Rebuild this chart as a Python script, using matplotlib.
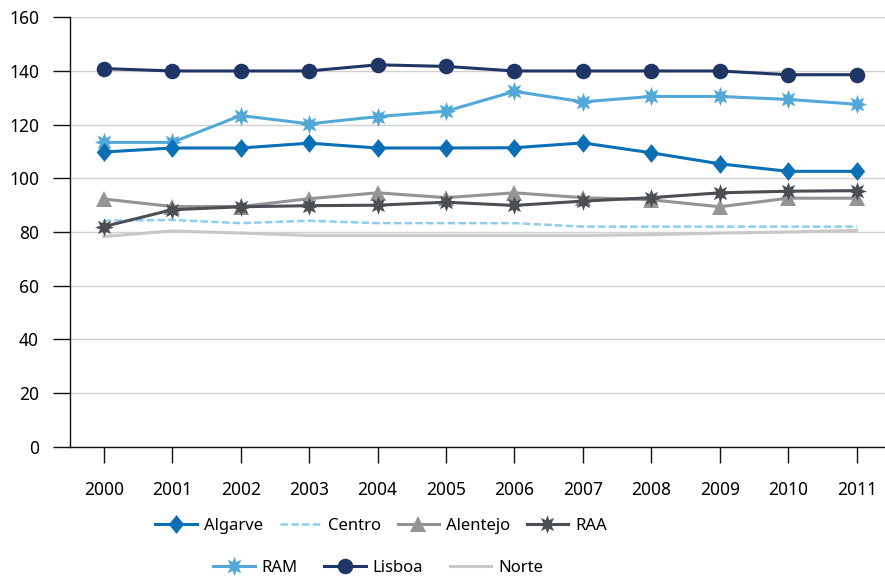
import matplotlib
matplotlib.use("Agg")
import matplotlib.pyplot as plt
import numpy as np

years = ["2000", "2001", "2002", "2003", "2004", "2005", "2006", "2007", "2008", "2009", "2010", "2011"]

algarve = [109.8, 111.3, 111.3, 113.1, 111.3, 111.3, 111.4, 113.2, 109.5, 105.4, 102.6, 102.6]
centro = [84.2, 84.5, 83.3, 84.2, 83.3, 83.3, 83.3, 82.0, 82.0, 82.0, 82.0, 82.0]
alentejo = [92.3, 89.5, 89.5, 92.4, 94.6, 92.8, 94.6, 92.8, 92.0, 89.4, 92.6, 92.6]
raa = [82.0, 88.3, 89.4, 89.8, 90.0, 91.1, 89.9, 91.5, 92.8, 94.6, 95.2, 95.4]
ram = [113.4, 113.4, 123.4, 120.3, 123.0, 125.0, 132.4, 128.5, 130.5, 130.5, 129.4, 127.6]
lisboa = [140.9, 140.0, 140.0, 140.0, 142.3, 141.7, 140.0, 140.0, 140.0, 140.0, 138.6, 138.6]
norte = [78.3, 80.4, 79.6, 78.7, 78.7, 78.7, 78.7, 78.7, 79.0, 79.6, 80.0, 80.6]

y_ticks = [0, 20, 40, 60, 80, 100, 120, 140, 160]

plt.rcParams['font.family'] = ['Noto Sans', 'DejaVu Sans']

fig = plt.figure(figsize=(8.85, 5.77), dpi=100)
ax = fig.add_axes([69.5 / 885, 1 - 446.7 / 577, (891 - 69.5) / 885, (446.7 - 17.3) / 577])

x = np.arange(len(years))

diamond = [(0, 1), (0.82, 0), (0, -1), (-0.82, 0), (0, 1)]
star8 = (8, 1, 0)

styles = {
    "Norte": dict(color="#c8c8c8", lw=2.2, marker=None, z=2),
    "Centro": dict(color="#8dcdee", lw=1.8, marker=None, ls=(0, (3, 1.3)), z=3),
    "Alentejo": dict(color="#949494", lw=2.2, marker="^", ms=11, z=4),
    "RAA": dict(color="#4b4f53", lw=2.2, marker=star8, ms=13.5, z=5),
    "RAM": dict(color="#52a9d8", lw=2.2, marker=star8, ms=14, z=6),
    "Algarve": dict(color="#0b6fb5", lw=2.2, marker=diamond, ms=13.5, z=7),
    "Lisboa": dict(color="#1f3566", lw=2.2, marker="o", ms=11.2, z=8),
}
data = {"Algarve": algarve, "Centro": centro, "Alentejo": alentejo, "RAA": raa,
        "RAM": ram, "Lisboa": lisboa, "Norte": norte}

handles = {}
for name in ["Norte", "Centro", "Alentejo", "RAA", "RAM", "Algarve", "Lisboa"]:
    s = styles[name]
    ln, = ax.plot(x, data[name], color=s["color"], lw=s["lw"], ls=s.get("ls", "-"),
                  marker=s["marker"], markersize=s.get("ms", 0), markeredgewidth=0,
                  zorder=s["z"], label=name, clip_on=False)
    handles[name] = ln

ax.set_xlim(-0.5, len(years) - 0.5)
ax.set_ylim(0, 160)
ax.set_yticks(y_ticks)
ax.set_xticks(x)
ax.set_xticklabels(years)
ax.yaxis.grid(True, color="#d0d0d0", lw=1.0)
ax.set_axisbelow(True)
for sp in ["top", "right"]:
    ax.spines[sp].set_visible(False)
ax.spines["left"].set_color("#111111")
ax.spines["bottom"].set_color("#111111")
ax.spines["left"].set_linewidth(1.0)
ax.spines["bottom"].set_linewidth(1.0)
ax.tick_params(axis="y", length=12, width=1.0, color="#111111", pad=10, labelsize=12.5)
ax.tick_params(axis="x", length=11.5, width=1.0, color="#111111", pad=13, labelsize=12.5)

legfont = dict(family=['Noto Sans', 'DejaVu Sans'], size=12)
row1 = ["Algarve", "Centro", "Alentejo", "RAA"]
row2 = ["RAM", "Lisboa", "Norte"]
fig.legend([handles[n] for n in row1], row1, loc="center", ncol=4,
           bbox_to_anchor=(381 / 885, 1 - 526 / 577), frameon=False,
           prop=legfont, handlelength=2.5, handletextpad=0.4, columnspacing=1.0)
fig.legend([handles[n] for n in row2], row2, loc="center", ncol=3,
           bbox_to_anchor=(378 / 885, 1 - 568 / 577), frameon=False,
           prop=legfont, handlelength=2.5, handletextpad=0.4, columnspacing=1.6)

fig.savefig("out.png", dpi=100)
